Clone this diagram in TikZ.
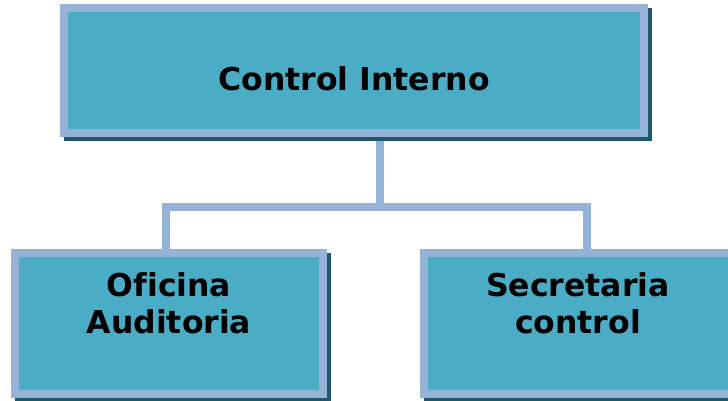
\documentclass[tikz,border=0pt]{standalone}
\usepackage{fontspec}
\setmainfont[Ligatures=NoCommon]{DejaVu Sans}
\usetikzlibrary{backgrounds}
\definecolor{boxfill}{HTML}{4BACC6}
\definecolor{boxline}{HTML}{95B3D7}
\definecolor{boxshade}{HTML}{215868}
\tikzset{
  orgbox/.style={draw=boxline, fill=boxfill, line width=8pt, inner sep=0pt},
  orgtext/.style={font=\bfseries\fontsize{31.5}{37}\selectfont, align=center, text=black, inner sep=0pt},
  conn/.style={draw=boxline, line width=8pt, line join=miter},
  shade/.style={fill=boxshade}
}
\begin{document}
\begin{tikzpicture}[x=1pt,y=-1pt]
\useasboundingbox (0,0) rectangle (728,400);

% boxes
\node[orgbox, minimum width=580pt, minimum height=125pt] (top) at (354,70.5) {};
\node[orgbox, minimum width=308pt, minimum height=141pt] (of) at (169,323.5) {};
\node[orgbox, minimum width=308pt, minimum height=141pt] (sec) at (578,323.5) {};

% labels
\node[orgtext] (ttop) at (354,79) {Control Interno};
\node[orgtext] (tof) at (169,303) {Oficina\\Auditoria};
\node[orgtext] (tsec) at (578,303) {Secretaria\\control};

% junction points of the tree
\coordinate (j) at (380,207);
\coordinate (jl) at (166,207);
\coordinate (jr) at (587,207);

\begin{pgfonlayer}{background}
  % connectors
  \draw[conn] (top.south -| j) -- (j);
  \draw[conn] (of.north -| jl) -- (jl) -- (jr) -- (sec.north -| jr);
  % drop shadows
  \foreach \b in {top,of,sec}{
    \fill[shade] ([shift={(4pt,-4pt)}]\b.north west) rectangle ([shift={(4pt,-4pt)}]\b.south east);
  }
\end{pgfonlayer}
\end{tikzpicture}
\end{document}
